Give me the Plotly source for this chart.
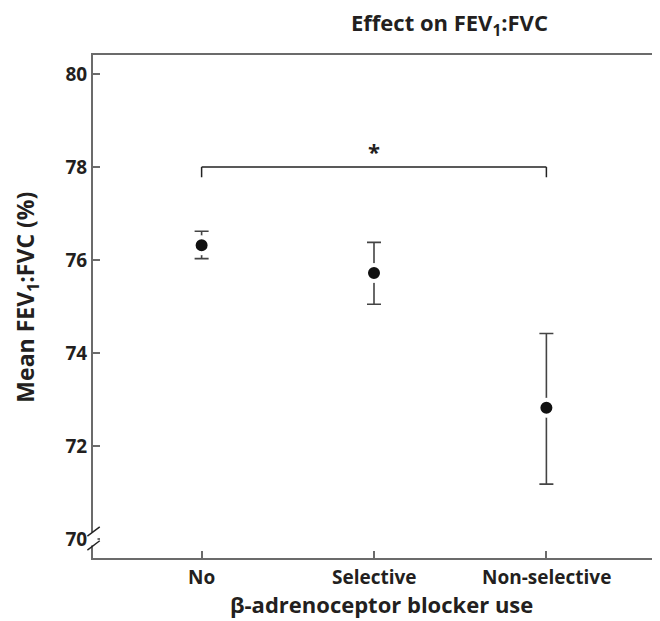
import plotly.graph_objects as go

categories = ["No", "Selective", "Non-selective"]
means = [76.32, 75.72, 72.82]
upper = [76.62, 76.38, 74.42]
lower = [76.03, 75.05, 71.18]
y_ticks = [70, 72, 74, 76, 78, 80]
sig_level = 78.0

FONT = "Open Sans"
TXT = "#231f20"
AX = "#6b6b6b"

x_idx = list(range(len(categories)))
err_plus = [u - m for u, m in zip(upper, means)]
err_minus = [m - l for m, l in zip(means, lower)]

fig = go.Figure()
fig.add_trace(go.Scatter(
    x=x_idx, y=means, mode="markers",
    marker=dict(size=16, color="#111111", line=dict(color="white", width=4)),
    error_y=dict(type="data", symmetric=False, array=err_plus, arrayminus=err_minus,
                 color="#444444", thickness=1.6, width=7),
    showlegend=False, hoverinfo="skip",
))

# significance bracket
fig.add_shape(type="line", x0=x_idx[0], x1=x_idx[-1], y0=sig_level, y1=sig_level,
              line=dict(color="#222222", width=1.5))
fig.add_shape(type="line", x0=x_idx[0], x1=x_idx[0], y0=sig_level, y1=sig_level - 0.22,
              line=dict(color="#222222", width=1.5))
fig.add_shape(type="line", x0=x_idx[-1], x1=x_idx[-1], y0=sig_level, y1=sig_level - 0.22,
              line=dict(color="#222222", width=1.5))
fig.add_annotation(x=1, y=sig_level, yshift=16, text="<b>*</b>", showarrow=False,
                   font=dict(family=FONT, size=22, color=TXT))

# axis break marks
fig.add_shape(type="rect", xref="paper", yref="y", x0=-0.008, x1=0.008, y0=69.86, y1=70.14,
              fillcolor="white", line=dict(width=0), layer="above")
for yb in (70.16, 69.86):
    fig.add_shape(type="line", xref="paper", yref="y", x0=-0.01, x1=0.012,
                  y0=yb - 0.1, y1=yb + 0.1, line=dict(color="#222222", width=1.4),
                  layer="above")

fig.add_annotation(xref="paper", yref="paper", x=0.635, y=1.0, yshift=31,
                   text="<b>Effect on FEV<sub>1</sub>:FVC</b>", showarrow=False,
                   font=dict(family=FONT, size=22, color=TXT), xanchor="center", yanchor="middle")

# x tick labels (placed closer to the axis than plotly's default)
for xi, c in zip(x_idx, categories):
    fig.add_annotation(xref="x", yref="paper", x=xi, y=0.0, yshift=-19,
                       text=f"<b>{c}</b>", showarrow=False,
                       font=dict(family=FONT, size=19, color=TXT),
                       xanchor="center", yanchor="middle")

# x-axis title
fig.add_annotation(xref="paper", yref="paper", x=0.514, y=0.0, yshift=-46,
                   text="<b>β-adrenoceptor blocker use</b>", showarrow=False,
                   font=dict(family=FONT, size=22, color=TXT), xanchor="center", yanchor="middle")

# y-axis title
fig.add_annotation(xref="paper", yref="paper", x=-0.118, y=0.519, textangle=-90,
                   text="<b>Mean FEV<sub>1</sub>:FVC (%)</b>", showarrow=False,
                   font=dict(family=FONT, size=23, color=TXT), xanchor="center", yanchor="middle")

fig.update_layout(
    width=652, height=613,
    margin=dict(l=85, r=5, t=47, b=63, autoexpand=False),
    paper_bgcolor="white", plot_bgcolor="white",
    font=dict(family=FONT, color=TXT),
)
fig.update_xaxes(
    range=[-0.63, 2.63], tickmode="array", tickvals=x_idx, showticklabels=False,
    ticks="inside", ticklen=7, tickcolor=AX, tickwidth=1.5,
    showline=True, linecolor=AX, linewidth=2, mirror=True,
    showgrid=False, zeroline=False, automargin=False,
)
fig.update_yaxes(
    range=[69.59, 80.41], tickmode="array", tickvals=y_ticks,
    ticktext=[f"<b>{t}</b>" for t in y_ticks],
    ticks="inside", ticklen=7, tickcolor=AX, tickwidth=1.5,
    showline=True, linecolor=AX, linewidth=2, mirror=True,
    showgrid=False, zeroline=False, automargin=False,
    tickfont=dict(family=FONT, size=19, color=TXT),
)

fig.write_html("out.html")
